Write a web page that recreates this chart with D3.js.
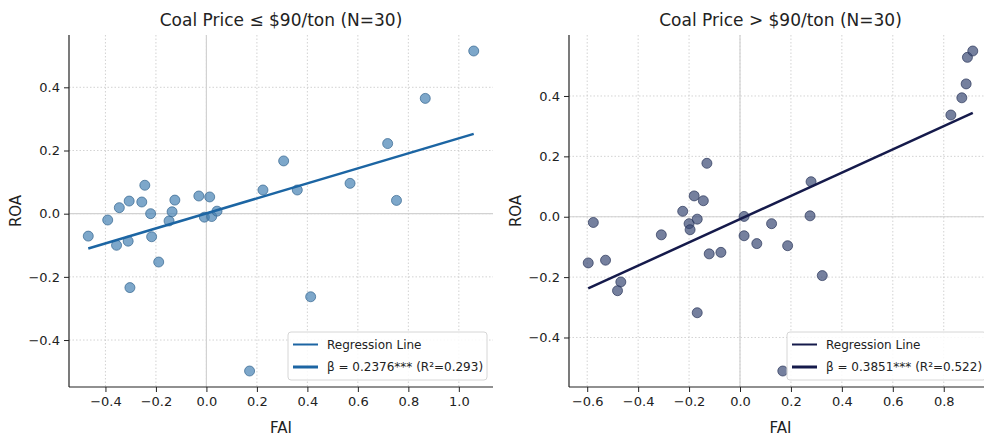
<!DOCTYPE html>
<html>
<head>
<meta charset="utf-8">
<script src="https://cdn.jsdelivr.net/npm/d3@7"></script>
<style>
  body { margin: 0; background: #fff; }
  svg text { font-family: "DejaVu Sans", sans-serif; fill: #222; }
</style>
</head>
<body>
<svg id="chart" width="984" height="438"></svg>
<script>
// values
var lowFAI = [-0.468, -0.391, -0.345, -0.306, -0.356, -0.310, -0.303, -0.256, -0.244, -0.221,
              -0.217, -0.189, -0.148, -0.136, -0.125, -0.030, 0.013, -0.008, 0.021, 0.042,
              0.224, 0.306, 0.360, 0.569, 0.718, 0.753, 0.867, 1.059, 0.413, 0.171];
var lowROA = [-0.071, -0.020, 0.019, 0.040, -0.100, -0.087, -0.234, 0.037, 0.090, 0.000,
              -0.073, -0.153, -0.023, 0.006, 0.043, 0.056, 0.053, -0.011, -0.009, 0.008,
              0.075, 0.167, 0.075, 0.096, 0.222, 0.042, 0.365, 0.515, -0.263, -0.498];

var highFAI = [-0.596, -0.576, -0.528, -0.468, -0.481, -0.309, -0.225, -0.200, -0.196, -0.168,
               -0.180, -0.144, -0.130, -0.121, -0.075, -0.168, 0.016, 0.016, 0.066, 0.124,
               0.187, 0.275, 0.279, 0.323, 0.168, 0.828, 0.871, 0.888, 0.893, 0.914];
var highROA = [-0.153, -0.019, -0.144, -0.216, -0.245, -0.060, 0.018, -0.023, -0.043, -0.008,
               0.069, 0.053, 0.177, -0.123, -0.118, -0.318, 0.001, -0.063, -0.089, -0.023,
               -0.096, 0.003, 0.116, -0.195, -0.511, 0.337, 0.394, 0.440, 0.528, 0.549];

var lowFit = { beta: 0.2376, intercept: 0.001, r2: 0.293 };
var highFit = { beta: 0.3851, intercept: -0.008, r2: 0.522 };

var lowXTicks = [-0.4, -0.2, 0.0, 0.2, 0.4, 0.6, 0.8, 1.0];
var highXTicks = [-0.6, -0.4, -0.2, 0.0, 0.2, 0.4, 0.6, 0.8];
var yTicks = [-0.4, -0.2, 0.0, 0.2, 0.4];

var titles = ["Coal Price \u2264 $90/ton (N=30)", "Coal Price > $90/ton (N=30)"];

var svg = d3.select("#chart");
var fmt = d3.format(".1f");

// matplotlib style padded extent
function padExtent(vals) {
  var e = d3.extent(vals), m = (e[1] - e[0]) * 0.05;
  return [e[0] - m, e[1] + m];
}

function drawPanel(p) {
  var x = d3.scaleLinear().domain(padExtent(p.fx)).range([p.left, p.right]);
  var y = d3.scaleLinear().domain(padExtent(p.fy)).range([p.bottom, p.top]);
  var g = svg.append("g");

  // dotted grid
  g.selectAll(".gx").data(p.xTicks).enter().append("line")
    .attr("x1", d => x(d)).attr("x2", d => x(d))
    .attr("y1", p.top).attr("y2", p.bottom)
    .attr("stroke", "#c8c8c8").attr("stroke-width", 0.8).attr("stroke-dasharray", "1.5,2");
  g.selectAll(".gy").data(yTicks).enter().append("line")
    .attr("x1", p.left).attr("x2", p.right)
    .attr("y1", d => y(d)).attr("y2", d => y(d))
    .attr("stroke", "#c8c8c8").attr("stroke-width", 0.8).attr("stroke-dasharray", "1.5,2");

  // zero reference lines
  g.append("line").attr("x1", x(0)).attr("x2", x(0)).attr("y1", p.top).attr("y2", p.bottom)
    .attr("stroke", "#d2d2d2").attr("stroke-width", 1.2);
  g.append("line").attr("x1", p.left).attr("x2", p.right).attr("y1", y(0)).attr("y2", y(0))
    .attr("stroke", "#d2d2d2").attr("stroke-width", 1.2);

  // points
  g.selectAll("circle").data(p.fx.map((v, i) => [v, p.fy[i]])).enter().append("circle")
    .attr("cx", d => x(d[0])).attr("cy", d => y(d[1])).attr("r", 5)
    .attr("fill", p.dot).attr("fill-opacity", 0.7)
    .attr("stroke", p.dotEdge).attr("stroke-opacity", 0.7).attr("stroke-width", 1);

  // regression line
  var xr = d3.extent(p.fx);
  g.append("path")
    .datum(xr.map(v => [v, p.fit.intercept + p.fit.beta * v]))
    .attr("d", d3.line().x(d => x(d[0])).y(d => y(d[1])))
    .attr("fill", "none").attr("stroke", p.lineColor).attr("stroke-width", 2.5);

  // axes
  var ax = g.append("g").attr("transform", "translate(0," + p.bottom + ")")
    .call(d3.axisBottom(x).tickValues(p.xTicks).tickFormat(fmt).tickSizeOuter(0).tickSize(5).tickPadding(5));
  var ay = g.append("g").attr("transform", "translate(" + p.left + ",0)")
    .call(d3.axisLeft(y).tickValues(yTicks).tickFormat(fmt).tickSizeOuter(0).tickSize(5).tickPadding(4));
  [ax, ay].forEach(function(a) {
    a.selectAll("text").style("font-size", "13px").attr("fill", "#222");
    a.selectAll("line").attr("stroke", "#222");
    a.select(".domain").attr("stroke", "#222").attr("stroke-width", 1.2)
      .attr("d", a === ax ? "M" + p.left + ",0H" + p.right : "M0," + p.top + "V" + p.bottom);
  });

  // title and labels
  var cx = (p.left + p.right) / 2;
  g.append("text").attr("x", cx).attr("y", 26).attr("text-anchor", "middle")
    .style("font-size", "17px").text(p.title);
  g.append("text").attr("x", cx).attr("y", 433).attr("text-anchor", "middle")
    .style("font-size", "15px").text("FAI");
  g.append("text").attr("transform", "translate(" + (p.left - 48) + "," + ((p.top + p.bottom) / 2) + ") rotate(-90)")
    .attr("text-anchor", "middle").style("font-size", "15px").text("ROA");

  // legend
  var lw = 199, lh = 48;
  var lx = p.right - 6 - lw, ly = p.bottom - 7 - lh;
  var lg = g.append("g").attr("transform", "translate(" + lx + "," + ly + ")");
  lg.append("rect").attr("width", lw).attr("height", lh).attr("rx", 3)
    .attr("fill", "#fff").attr("fill-opacity", 0.85).attr("stroke", "#d6d6d6");
  var entries = [
    { label: "Regression Line", w: 2 },
    { label: "\u03b2 = " + p.fit.beta.toFixed(4) + "*** (R\u00b2=" + p.fit.r2.toFixed(3) + ")", w: 3 }
  ];
  entries.forEach(function(e, i) {
    var yy = 12.5 + i * 22.5;
    lg.append("line").attr("x1", 5).attr("x2", 30).attr("y1", yy).attr("y2", yy)
      .attr("stroke", p.lineColor).attr("stroke-width", e.w);
    lg.append("text").attr("x", 39).attr("y", yy).attr("dy", "0.35em")
      .style("font-size", "12px").text(e.label);
  });
}

drawPanel({ fx: lowFAI, fy: lowROA, fit: lowFit, xTicks: lowXTicks, title: titles[0],
  left: 69, right: 493, top: 35, bottom: 387,
  dot: "#4682b4", dotEdge: "#35658f", lineColor: "#1c65a3" });
drawPanel({ fx: highFAI, fy: highROA, fit: highFit, xTicks: highXTicks, title: titles[1],
  left: 569, right: 992, top: 35, bottom: 387,
  dot: "#3b4a75", dotEdge: "#2b365a", lineColor: "#151a4b" });
</script>
</body>
</html>
